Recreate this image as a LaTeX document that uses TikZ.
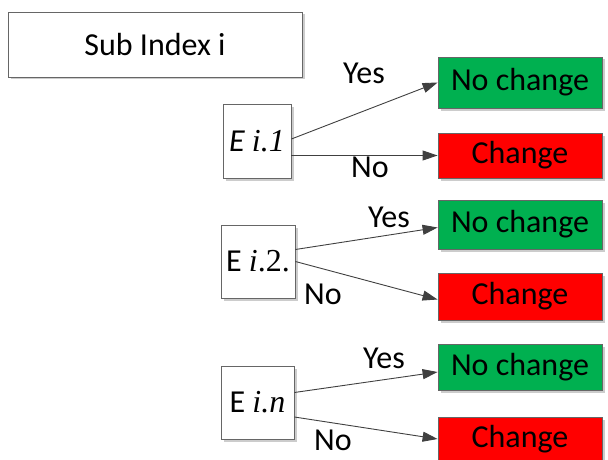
\documentclass[tikz,border=0pt]{standalone}
\usepackage{fontspec}
\setmainfont{Carlito}
\newfontfamily\timesfam{Liberation Serif}
\usetikzlibrary{arrows.meta,shadows,calc}
\definecolor{okgreen}{RGB}{0,176,80}
\definecolor{edgegray}{RGB}{64,64,64}
\begin{document}
\begin{tikzpicture}[x=1pt,y=-1pt,font=\fontsize{32}{38}\selectfont,
  box/.style={draw=black!60,line width=0.8pt,fill=white,inner sep=0pt,
    drop shadow={shadow xshift=2.5pt,shadow yshift=-2.5pt,fill=black!20,opacity=1}},
  keep/.style={box,fill=okgreen,minimum width=164pt},
  swap/.style={box,fill=red,minimum width=164pt},
  arr/.style={draw=edgegray,line width=0.9pt,-{Triangle[length=15pt,width=10pt]}}]
\useasboundingbox (0,0) rectangle (608,460);
% left column
\node[box,minimum width=294pt,minimum height=65pt] (sub) at (155,44.5) {Sub Index i};
\node[box,minimum width=68pt,minimum height=74pt] (e1) at (257,141) {\itshape E \timesfam i.1};
\node[box,minimum width=74pt,minimum height=73pt] (e2) at (258,261.5) {E {\timesfam\itshape i}{\timesfam .2.}};
\node[box,minimum width=73pt,minimum height=73pt] (e3) at (257.5,402.5) {E {\timesfam\itshape i.n}};
% right column
\node[keep,minimum height=51pt] (nc1) at (520,82.5) {No change};
\node[swap,minimum height=45pt] (c1) at (520,155.5) {Change};
\node[keep,minimum height=49pt] (nc2) at (520,224.5) {No change};
\node[swap,minimum height=47pt] (c2) at (520,296.5) {Change};
\node[keep,minimum height=46pt] (nc3) at (520,367) {No change};
\node[swap,minimum height=44pt] (c3) at (520,439) {Change};
% decisions
\draw[arr] ($(e1.east)+(0,-2)$) -- (nc1.west);
\draw[arr] (e1.east |- c1.west) -- (c1.west);
\draw[arr] ($(e2.east)+(0,-12)$) -- ($(nc2.west)+(0,3)$);
\draw[arr] (e2.east) -- ($(c2.west)+(0,3)$);
\draw[arr] ($(e3.east)+(0,-10)$) -- ($(nc3.west)+(0,5)$);
\draw[arr] ($(e3.east)+(0,14.5)$) -- (c3.west);
\node (y1) at (364,73) {Yes};
\node (n1) at (370,167) {No};
\node (y2) at (389,217) {Yes};
\node (n2) at (323,294) {No};
\node (y3) at (384,358) {Yes};
\node (n3) at (333,440) {No};
\end{tikzpicture}
\end{document}
